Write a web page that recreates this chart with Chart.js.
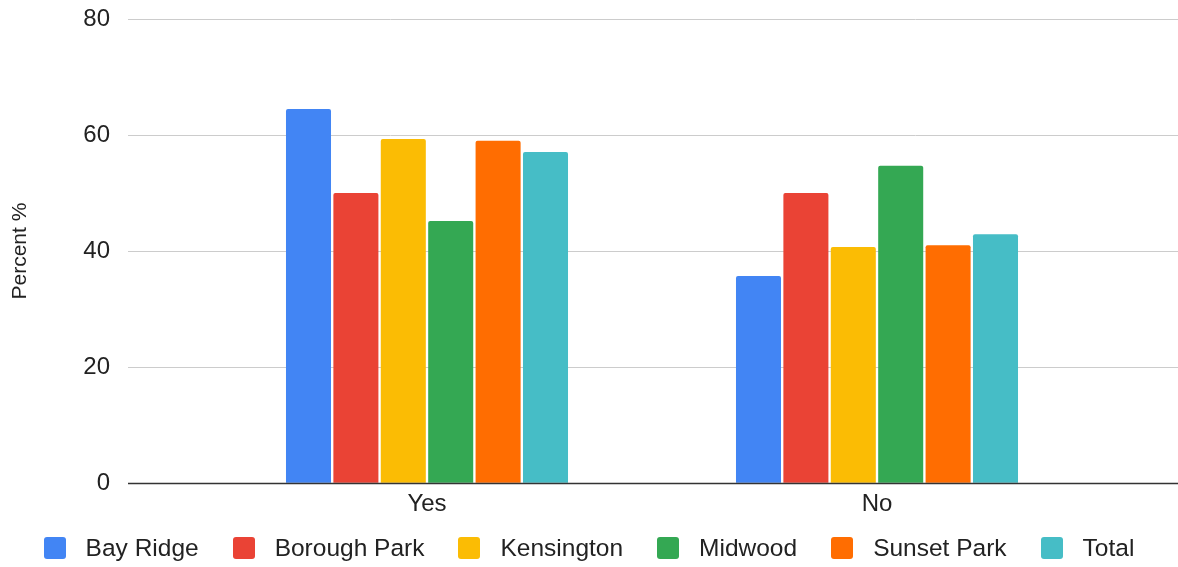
<!DOCTYPE html>
<html>
<head>
<meta charset="utf-8">
<script src="https://cdn.jsdelivr.net/npm/chart.js@4/dist/chart.umd.min.js"></script>
<style>
  html, body { margin: 0; padding: 0; background: #fff; }
  #wrap { position: relative; width: 1178px; height: 567px; }
  #legend {
    position: absolute; left: 0; right: 0; top: 535px; height: 26px;
    display: flex; justify-content: center; align-items: center; gap: 34px;
    font-family: "Liberation Sans", Arial, sans-serif; font-size: 24.5px; color: #222;
  }
  #legend .item { display: flex; align-items: center; gap: 20px; white-space: nowrap; }
  #legend .box { width: 22px; height: 22px; border-radius: 3px; }
</style>
</head>
<body>
<div id="wrap">
  <canvas id="surveyChart"></canvas>
  <div id="legend"></div>
</div>
<script>
// --- data ---
const categories = ['Yes', 'No'];
const bayRidge = [64.5, 35.7];
const boroughPark = [50.0, 50.0];
const kensington = [59.3, 40.7];
const midwood = [45.2, 54.7];
const sunsetPark = [59.0, 41.0];
const total = [57.1, 42.9];
const yTicks = [0, 20, 40, 60, 80];

const seriesNames = ['Bay Ridge', 'Borough Park', 'Kensington', 'Midwood', 'Sunset Park', 'Total'];
const seriesData = [bayRidge, boroughPark, kensington, midwood, sunsetPark, total];
const seriesColors = ['#4285f4', '#ea4335', '#fbbc04', '#34a853', '#ff6d01', '#46bdc6'];

Chart.defaults.font.family = '"Liberation Sans", Arial, sans-serif';
Chart.defaults.color = '#222';

// gridlines run wider than the bar area, like the original
const wideGrid = {
  id: 'wideGrid',
  beforeDatasetsDraw(chart) {
    const { ctx, scales: { y } } = chart;
    ctx.save();
    ctx.strokeStyle = '#cccccc';
    ctx.lineWidth = 1;
    yTicks.forEach(v => {
      if (v === 0) return;
      const py = Math.round(y.getPixelForValue(v)) + 0.5;
      ctx.beginPath();
      ctx.moveTo(128, py);
      ctx.lineTo(chart.width, py);
      ctx.stroke();
    });
    ctx.restore();
  },
  afterDatasetsDraw(chart) {
    const { ctx, scales: { y } } = chart;
    const py = Math.round(y.getPixelForValue(0)) + 0.5;
    ctx.save();
    ctx.strokeStyle = '#333333';
    ctx.lineWidth = 1.5;
    ctx.beginPath();
    ctx.moveTo(128, py);
    ctx.lineTo(chart.width, py);
    ctx.stroke();
    ctx.restore();
  }
};

new Chart(document.getElementById('surveyChart'), {
  type: 'bar',
  data: {
    labels: categories,
    datasets: seriesNames.map((name, i) => ({
      label: name,
      data: seriesData[i],
      backgroundColor: seriesColors[i],
      borderRadius: { topLeft: 2, topRight: 2 },
      borderSkipped: 'bottom',
      categoryPercentage: 0.632,
      barPercentage: 0.95
    }))
  },
  plugins: [wideGrid],
  options: {
    responsive: true,
    maintainAspectRatio: false,
    animation: false,
    layout: { padding: { top: 19, right: 76, left: 0, bottom: 41 } },
    scales: {
      x: {
        grid: { display: false, drawTicks: false },
        border: { display: false },
        ticks: { font: { size: 24 }, color: '#222', padding: 7, maxRotation: 0 }
      },
      y: {
        min: 0,
        max: 80,
        afterFit: s => { s.width = 202; },
        afterBuildTicks: s => { s.ticks = yTicks.map(v => ({ value: v })); },
        grid: { drawOnChartArea: false, drawTicks: true, tickLength: 92, tickColor: 'rgba(0,0,0,0)' },
        border: { display: false },
        ticks: { font: { size: 24 }, color: '#222', padding: 0 },
        title: {
          display: true,
          text: 'Percent %',
          font: { size: 21 },
          color: '#222',
          padding: { top: 8, bottom: 0 }
        }
      }
    },
    plugins: {
      legend: { display: false },
      tooltip: { enabled: false }
    }
  }
});

// legend below the chart, built from the same series lists
const legendEl = document.getElementById('legend');
seriesNames.forEach((name, i) => {
  const item = document.createElement('div');
  item.className = 'item';
  const box = document.createElement('span');
  box.className = 'box';
  box.style.background = seriesColors[i];
  const txt = document.createElement('span');
  txt.textContent = name;
  item.appendChild(box);
  item.appendChild(txt);
  legendEl.appendChild(item);
});
</script>
</body>
</html>
